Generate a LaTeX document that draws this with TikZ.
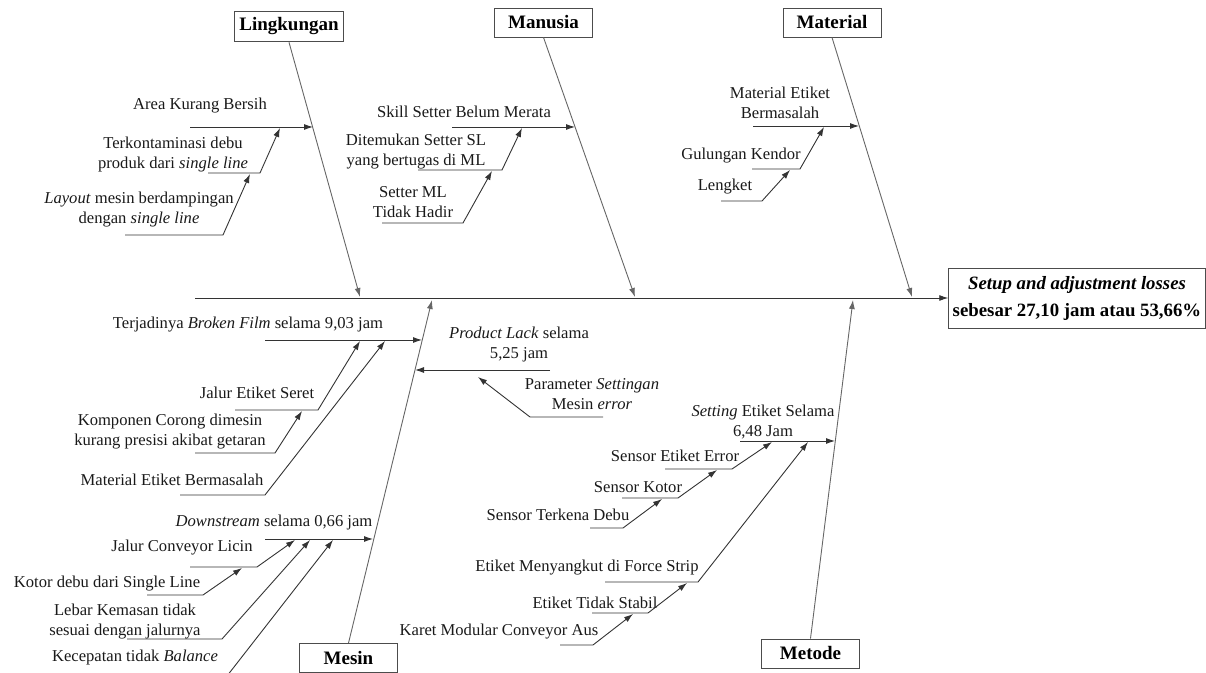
\documentclass[tikz,border=0pt]{standalone}
\usepackage{fontspec}
\setmainfont{Liberation Serif}
\usepackage{tikz}
\usetikzlibrary{arrows.meta,shapes,positioning}
\tikzset{
  every picture/.style = {
    x = 0.5pt,
    y = -0.5pt,
    line width = 0.45pt,
    >={Latex[length=4.5pt,width=3pt]},
  }
  , % category boxes
  category/.style = {
    rectangle,
    draw = black!70,
    font = \fontsize{9.5}{11}\selectfont\bfseries,
    minimum width = 49pt,
    minimum height = 14.5pt,
    inner xsep = 2.5pt
  }
  , % the effect
  effect/.style = {
    rectangle,
    draw = black!70,
    align = center,
    font = \fontsize{9.4}{13.5}\selectfont\bfseries,
    minimum width = 125pt,
    minimum height = 30pt,
    inner xsep = 2pt
  }
  , % labels of causes
  cause/.style = {
    align = center,
    font = \fontsize{8.3}{10}\selectfont,
    text = black!90,
    inner sep = 0pt
  }
  , % main bones
  bone/.style = {
    draw = black!60,
    ->
  }
  , % small bones
  branch/.style = {
    draw = black!80,
    ->
  }
}
\begin{document}
\begin{tikzpicture}
  \useasboundingbox (0,0) rectangle (1206,673);
  % head and spine
  \node [effect] (eff) at (1077,298) {\textit{Setup and adjustment losses}\\sebesar 27,10 jam atau 53,66\%};
  \coordinate (sp) at (195,298);
  \draw [branch] (sp) -- (eff.west);
  % categories
  \node [category] (ling) at (289,26.5) {Lingkungan};
  \node [category] (manu) at (543.5,22.5) {Manusia};
  \node [category] (mate) at (832,22.5) {Material};
  \node [category] (mesin) at (348.5,658) {Mesin};
  \node [category] (metode) at (810.5,653.5) {Metode};
  \coordinate (lingtip) at (360,297);
  \coordinate (manutip) at (635,297);
  \coordinate (matetip) at (912,297);
  \coordinate (mesintip) at (432,300);
  \coordinate (metodetip) at (853,300);
  \draw [bone] (ling.south) -- (lingtip);
  \draw [bone] (manu.south) -- (manutip);
  \draw [bone] (mate.south) -- (matetip);
  \draw [bone] (mesin.north) -- (mesintip);
  \draw [bone] (metode.north) -- (metodetip);
  % Lingkungan
  \node [cause] (c1) at (200,106) {Area Kurang Bersih};
  \path (190,127) coordinate (c1s) (313,127) coordinate (c1t);
  \draw [branch] (c1s) -- (c1t);
  \node [cause] (c2) at (173,155) {Terkontaminasi debu\\produk dari \textit{single line}};
  \path (208,173) coordinate (c2s) (260,173) coordinate (c2b) (280,128) coordinate (c2t);
  \draw [branch] (c2s) -- (c2b) -- (c2t);
  \node [cause] (c3) at (139,210) {\textit{Layout} mesin berdampingan\\dengan \textit{single line}};
  \path (125,235) coordinate (c3s) (223,235) coordinate (c3b) (250,174) coordinate (c3t);
  \draw [branch] (c3s) -- (c3b) -- (c3t);
  % Manusia
  \node [cause] (c4) at (464,112) {Skill Setter Belum Merata};
  \path (452,127) coordinate (c4s) (575,127) coordinate (c4t);
  \draw [branch] (c4s) -- (c4t);
  \node [cause] (c5) at (416,152) {Ditemukan Setter SL\\yang bertugas di ML};
  \path (418,170) coordinate (c5s) (502,170) coordinate (c5b) (522,128) coordinate (c5t);
  \draw [branch] (c5s) -- (c5b) -- (c5t);
  \node [cause] (c6) at (413,202) {Setter ML\\Tidak Hadir};
  \path (382,223) coordinate (c6s) (463,223) coordinate (c6b) (492,171) coordinate (c6t);
  \draw [branch] (c6s) -- (c6b) -- (c6t);
  % Material
  \node [cause] (c7) at (780,103) {Material Etiket\\Bermasalah};
  \path (753,126) coordinate (c7s) (859,126) coordinate (c7t);
  \draw [branch] (c7s) -- (c7t);
  \node [cause] (c8) at (741,156) {Gulungan Kendor};
  \path (752,169) coordinate (c8s) (800,169) coordinate (c8b) (824,127) coordinate (c8t);
  \draw [branch] (c8s) -- (c8b) -- (c8t);
  \node [cause] (c9) at (725,187) {Lengket};
  \path (721,201) coordinate (c9s) (762,201) coordinate (c9b) (790,170) coordinate (c9t);
  \draw [branch] (c9s) -- (c9b) -- (c9t);
  % Mesin
  \node [cause] (c10) at (248,325) {Terjadinya \textit{Broken Film} selama 9,03 jam};
  \path (265,340) coordinate (c10s) (422,340) coordinate (c10t);
  \draw [branch] (c10s) -- (c10t);
  \node [cause] (c11) at (257,393) {Jalur Etiket Seret};
  \path (235,410) coordinate (c11s) (318,410) coordinate (c11b) (360,341) coordinate (c11t);
  \draw [branch] (c11s) -- (c11b) -- (c11t);
  \node [cause] (c12) at (170,432) {Komponen Corong dimesin\\kurang presisi akibat getaran};
  \path (195,453) coordinate (c12s) (275,453) coordinate (c12b) (302,411) coordinate (c12t);
  \draw [branch] (c12s) -- (c12b) -- (c12t);
  \node [cause] (c13) at (172,480) {Material Etiket Bermasalah};
  \path (180,495) coordinate (c13s) (265,495) coordinate (c13b) (385,341) coordinate (c13t);
  \draw [branch] (c13s) -- (c13b) -- (c13t);
  \node [cause] (c14) at (274,523) {\textit{Downstream} selama 0,66 jam};
  \path (265,539) coordinate (c14s) (373,539) coordinate (c14t);
  \draw [branch] (c14s) -- (c14t);
  \node [cause] (c15) at (182,548) {Jalur Conveyor Licin};
  \path (190,567) coordinate (c15s) (257,567) coordinate (c15b) (295,540) coordinate (c15t);
  \draw [branch] (c15s) -- (c15b) -- (c15t);
  \node [cause] (c16) at (107,584) {Kotor debu dari Single Line};
  \path (147,595) coordinate (c16s) (203,595) coordinate (c16b) (242,568) coordinate (c16t);
  \draw [branch] (c16s) -- (c16b) -- (c16t);
  \node [cause] (c17) at (125,622) {Lebar Kemasan tidak\\sesuai dengan jalurnya};
  \path (127,639) coordinate (c17s) (222,639) coordinate (c17b) (310,540) coordinate (c17t);
  \draw [branch] (c17s) -- (c17b) -- (c17t);
  \node [cause] (c18) at (135,658) {Kecepatan tidak \textit{Balance}};
  \path (110,676) coordinate (c18s) (227,676) coordinate (c18b) (333,540) coordinate (c18t);
  \draw [branch] (c18s) -- (c18b) -- (c18t);
  % between Mesin and Metode
  \node [cause] (c19) at (519,345) {\textit{Product Lack} selama\\5,25 jam};
  \path (550,370) coordinate (c19s) (415,370) coordinate (c19t);
  \draw [branch] (c19s) -- (c19t);
  \node [cause] (c20) at (592,394) {Parameter \textit{Settingan}\\Mesin \textit{error}};
  \path (603,417) coordinate (c20s) (530,417) coordinate (c20b) (478,377) coordinate (c20t);
  \draw [branch] (c20s) -- (c20b) -- (c20t);
  % Metode
  \node [cause] (c21) at (763,422) {\textit{Setting} Etiket Selama\\6,48 Jam};
  \path (740,441) coordinate (c21s) (835,441) coordinate (c21t);
  \draw [branch] (c21s) -- (c21t);
  \node [cause] (c22) at (675,456) {Sensor Etiket Error};
  \path (665,469) coordinate (c22s) (732,469) coordinate (c22b) (772,442) coordinate (c22t);
  \draw [branch] (c22s) -- (c22b) -- (c22t);
  \node [cause] (c23) at (638,487) {Sensor Kotor};
  \path (622,498) coordinate (c23s) (678,498) coordinate (c23b) (717,470) coordinate (c23t);
  \draw [branch] (c23s) -- (c23b) -- (c23t);
  \node [cause] (c24) at (558,515) {Sensor Terkena Debu};
  \path (590,528) coordinate (c24s) (623,528) coordinate (c24b) (662,499) coordinate (c24t);
  \draw [branch] (c24s) -- (c24b) -- (c24t);
  \node [cause] (c25) at (587,568) {Etiket Menyangkut di Force Strip};
  \path (605,582) coordinate (c25s) (698,582) coordinate (c25b) (808,442) coordinate (c25t);
  \draw [branch] (c25s) -- (c25b) -- (c25t);
  \node [cause] (c26) at (595,603) {Etiket Tidak Stabil};
  \path (592,613) coordinate (c26s) (648,613) coordinate (c26b) (687,583) coordinate (c26t);
  \draw [branch] (c26s) -- (c26b) -- (c26t);
  \node [cause] (c27) at (499,632) {Karet Modular Conveyor Aus};
  \path (560,645) coordinate (c27s) (593,645) coordinate (c27b) (633,614) coordinate (c27t);
  \draw [branch] (c27s) -- (c27b) -- (c27t);
\end{tikzpicture}
\end{document}
